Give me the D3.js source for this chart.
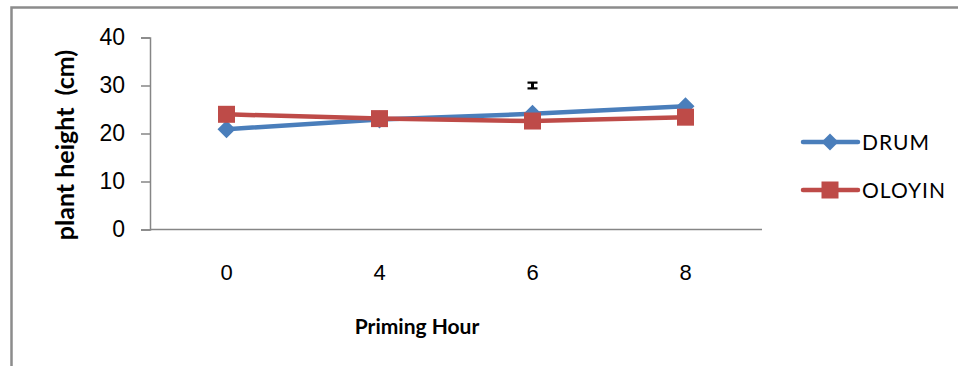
<!DOCTYPE html>
<html>
<head>
<meta charset="utf-8">
<script src="https://cdn.jsdelivr.net/npm/d3@7"></script>
<style>
  html, body { margin: 0; padding: 0; background: #fff; }
  svg { display: block; font-family: Lato, "Open Sans", "Liberation Sans", sans-serif; }
  .pre { white-space: pre; }
</style>
</head>
<body>
<script>
// Priming hours (categories) and mean plant height per variety
const hours = ["0", "4", "6", "8"];
const drum = [20.9, 22.9, 24.1, 25.7];
const oloyin = [24.0, 23.1, 22.6, 23.4];
const seriesNames = ["DRUM", "OLOYIN"];
const seriesColors = ["#4a7ebb", "#be4b48"];
const yTicks = [0, 10, 20, 30, 40];
// Single error bar shown above the 6 h point
const errBar = { hour: "6", low: 29.4, high: 30.6 };

const W = 958, H = 366;
const svg = d3.select("body").append("svg").attr("width", W).attr("height", H);

// Outer chart frame
svg.append("path")
  .attr("d", `M11.5,${H} L11.5,7.5 L${W},7.5`)
  .attr("fill", "none").attr("stroke", "#8c8c8c").attr("stroke-width", 2.5);

const plot = { left: 150, right: 762, top: 37.5, bottom: 229.5 };

const x = d3.scaleBand().domain(hours).range([plot.left, plot.right]);
const y = d3.scaleLinear().domain([0, 40]).range([plot.bottom, plot.top]);

// Y axis
const yAxis = svg.append("g").attr("transform", `translate(${plot.left},0)`)
  .call(d3.axisLeft(y).tickValues(yTicks).tickSize(9).tickPadding(16));
yAxis.select(".domain").attr("stroke", "#868686").attr("stroke-width", 1.5);
yAxis.selectAll(".tick line").attr("stroke", "#868686").attr("stroke-width", 1.5);
yAxis.selectAll("text").attr("font-size", 23).attr("fill", "#000");

// X axis (no tick marks)
const xAxis = svg.append("g").attr("transform", `translate(0,${plot.bottom})`)
  .call(d3.axisBottom(x).tickSize(0).tickPadding(35));
xAxis.select(".domain").attr("stroke", "#868686").attr("stroke-width", 1.5)
  .attr("d", `M${plot.left},0H${plot.right}`);
xAxis.selectAll("text").attr("font-size", 22).attr("fill", "#000");

// Axis titles
svg.append("text")
  .attr("class", "pre")
  .attr("transform", "translate(74,145) rotate(-90)")
  .attr("text-anchor", "middle").attr("font-weight", "bold").attr("font-size", 25)
  .text("plant height  (cm)");
svg.append("text")
  .attr("x", 417).attr("y", 334)
  .attr("text-anchor", "middle").attr("font-weight", "bold").attr("font-size", 21)
  .text("Priming Hour");

const cx = h => x(h) + x.bandwidth() / 2;
const line = d3.line().x(d => cx(d.h)).y(d => y(d.v));

const diamond = (g, px, py, s) =>
  g.append("path").attr("d", `M${px},${py - s} L${px + s},${py} L${px},${py + s} L${px - s},${py} Z`);
const square = (g, px, py, s) =>
  g.append("rect").attr("x", px - s).attr("y", py - s).attr("width", 2 * s).attr("height", 2 * s);

const series = [drum, oloyin];
series.forEach((vals, i) => {
  const pts = hours.map((h, j) => ({ h, v: vals[j] }));
  const g = svg.append("g").attr("fill", seriesColors[i]);
  g.append("path").datum(pts).attr("d", line)
    .attr("fill", "none").attr("stroke", seriesColors[i]).attr("stroke-width", 4.5);
  pts.forEach(p => {
    if (i === 0) diamond(g, cx(p.h), y(p.v), 9);
    else square(g, cx(p.h), y(p.v), 8.5);
  });
});

// Error bar
const eb = svg.append("g").attr("stroke", "#000").attr("stroke-width", 2.2);
const ex = cx(errBar.hour);
eb.append("line").attr("x1", ex).attr("x2", ex).attr("y1", y(errBar.high)).attr("y2", y(errBar.low)).attr("stroke-width", 3);
eb.append("line").attr("x1", ex - 5).attr("x2", ex + 5).attr("y1", y(errBar.high)).attr("y2", y(errBar.high));
eb.append("line").attr("x1", ex - 5).attr("x2", ex + 5).attr("y1", y(errBar.low)).attr("y2", y(errBar.low));

// Legend
const legendY = [142, 190];
seriesNames.forEach((name, i) => {
  const g = svg.append("g").attr("fill", seriesColors[i]);
  g.append("line").attr("x1", 803).attr("x2", 858).attr("y1", legendY[i]).attr("y2", legendY[i])
    .attr("stroke", seriesColors[i]).attr("stroke-width", 4.5).attr("stroke-linecap", "round");
  if (i === 0) diamond(g, 830, legendY[i], 8.5);
  else square(g, 830, legendY[i], 8.5);
  svg.append("text").attr("x", 862).attr("y", legendY[i] + 7.5)
    .attr("font-size", 21).attr("letter-spacing", 1).attr("fill", "#000").text(name);
});
</script>
</body>
</html>
